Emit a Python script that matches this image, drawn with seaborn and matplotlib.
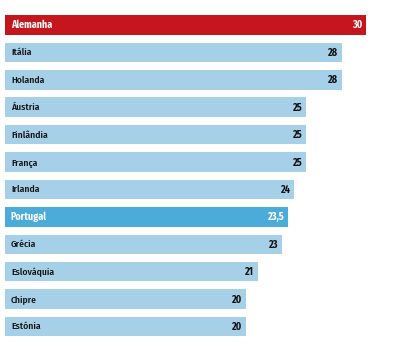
import matplotlib
matplotlib.use("Agg")
import matplotlib.pyplot as plt
import seaborn as sns
import pandas as pd

countries = ["Alemanha", "Itália", "Holanda", "Áustria", "Finlândia", "França",
             "Irlanda", "Portugal", "Grécia", "Eslováquia", "Chipre", "Estónia"]
values = [30, 28, 28, 25, 25, 25, 24, 23.5, 23, 21, 20, 20]
value_labels = ["30", "28", "28", "25", "25", "25", "24", "23,5", "23", "21", "20", "20"]

RED = "#C4161C"
LIGHT = "#A6CFE8"
MID = "#4BABD9"
highlight = {"Alemanha": RED, "Portugal": MID}
colors = [highlight.get(c, LIGHT) for c in countries]
text_colors = ["white" if c in highlight else "#111111" for c in countries]

df = pd.DataFrame({"country": countries, "value": values})

sns.set_theme(style="white")
plt.rcParams["font.family"] = ["Fira Sans Condensed", "DejaVu Sans"]

fig = plt.figure(figsize=(4.0, 3.47), dpi=100)
ax = fig.add_axes([0, 0, 1, 1])

sns.barplot(data=df, x="value", y="country", hue="country", palette=colors,
            legend=False, width=0.71, saturation=1, ax=ax,
            edgecolor="none", orient="h")

ax.set_xlim(-0.415, 32.83)
ax.set_ylim(11.75, -0.912)

for i, (c, v, lab, tc) in enumerate(zip(countries, values, value_labels, text_colors)):
    ax.annotate(c, xy=(0, i), xytext=(4.3, -0.3), textcoords="offset points",
                ha="left", va="center", color=tc,
                fontsize=7.2 if c in highlight else 6.9,
                fontweight="bold" if c in highlight else 500)
    ax.annotate(lab, xy=(v, i), xytext=(-2.4, -0.3), textcoords="offset points",
                ha="right", va="center", color=tc, fontsize=7.2, fontweight="bold")

ax.set_axis_off()
fig.savefig("out.png", dpi=100)
